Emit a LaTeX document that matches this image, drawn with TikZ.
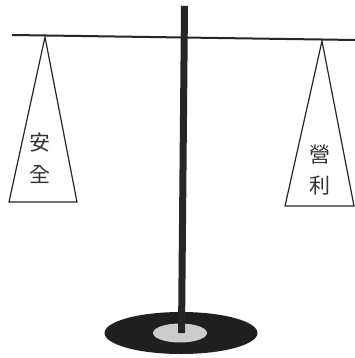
\documentclass[tikz,border=0pt]{standalone}
\usepackage{fontspec}
\usetikzlibrary{shapes.geometric}
\newfontfamily\cjk{Noto Sans CJK TC}
\begin{document}
\begin{tikzpicture}[x=1pt,y=-1pt,
  pan/.style={draw=black!85,line width=1.2pt,fill=white,line join=miter},
  lbl/.style={font=\cjk\fontsize{21}{24}\selectfont,text=black!80,inner sep=0pt}]
\useasboundingbox[fill=white] (0,0) rectangle (355,358);
% base
\node[ellipse,draw=none,fill=black!88,minimum width=153pt,minimum height=42pt,inner sep=0pt] (base) at (181,333) {};
\node[ellipse,draw=none,fill=black!20,minimum width=54pt,minimum height=19pt,inner sep=0pt] (hub) at (180,333) {};
% pole
\fill[black!85] (181,6) -- (188,6) -- (185,333) -- (178,333) -- cycle;
% beam
\coordinate (bl) at (12,35);
\coordinate (br) at (355,40);
\draw[black!85,line width=2pt] (bl) -- (br);
% pans
\coordinate (la) at (45,37);
\coordinate (ra) at (322,41);
\draw[pan] (la) -- (77,202) -- (9,202) -- cycle;
\draw[pan] (ra) -- (354,206) -- (285,206) -- cycle;
\node[lbl] (an) at (40,142) {安};
\node[lbl] (quan) at (40,175) {全};
\node[lbl] (ying) at (320,155) {營};
\node[lbl] (li) at (320,186) {利};
\end{tikzpicture}
\end{document}
